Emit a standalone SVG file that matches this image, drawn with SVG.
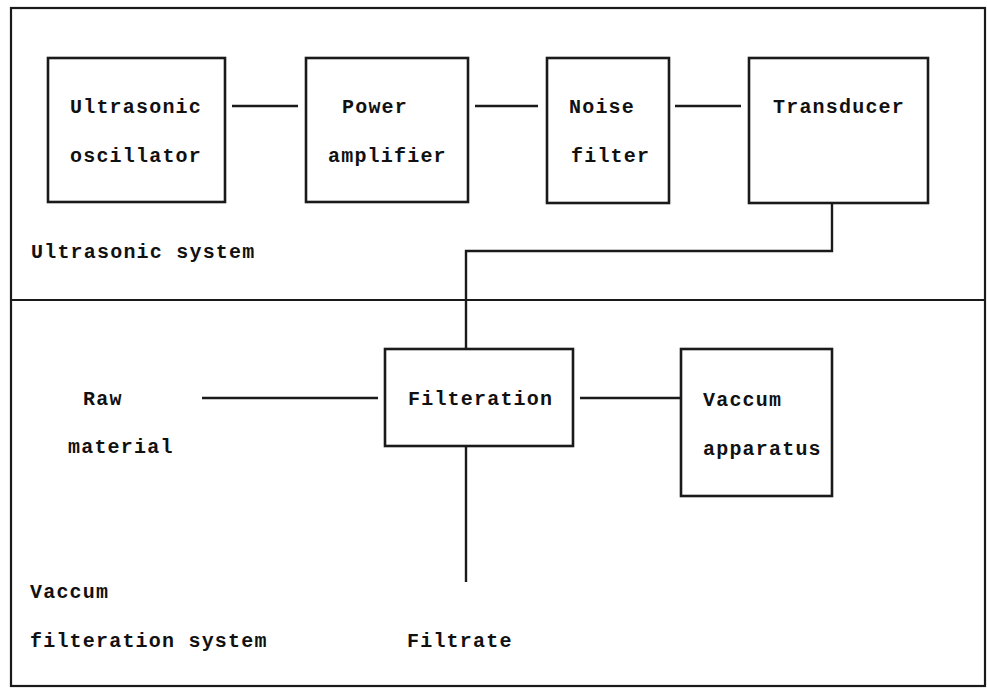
<svg xmlns="http://www.w3.org/2000/svg" width="987" height="690" viewBox="0 0 987 690">
<style>
.frame{fill:none;stroke:#1a1a1a;stroke-width:2.2}
.box{fill:none;stroke:#1a1a1a;stroke-width:2.6}
.wire{fill:none;stroke:#1a1a1a;stroke-width:2.4}
text{font-family:"Liberation Mono","DejaVu Sans Mono",monospace;font-weight:bold;font-size:20px;letter-spacing:1.2px;fill:#111}
</style>
<rect width="987" height="690" fill="#ffffff"/>
<g id="frame">
<rect class="frame" x="11" y="8" width="974" height="678"/>
<line class="frame" x1="11" y1="300" x2="985" y2="300"/>
</g>
<g id="label-ultrasonic-system"><text x="31" y="258">Ultrasonic system</text></g>
<g id="label-vaccum-filteration-system"><text x="30" y="598">Vaccum</text><text x="30" y="647">filteration system</text></g>
<g id="node-oscillator"><rect class="box" x="48" y="58" width="177" height="144"/><text x="70" y="113">Ultrasonic</text><text x="70" y="162">oscillator</text></g>
<g id="node-amplifier"><rect class="box" x="306" y="58" width="162" height="144"/><text x="342" y="113">Power</text><text x="328" y="162">amplifier</text></g>
<g id="node-noise-filter"><rect class="box" x="547" y="58" width="122" height="145"/><text x="569" y="113">Noise</text><text x="571" y="162">filter</text></g>
<g id="node-transducer"><rect class="box" x="749" y="58" width="179" height="145"/><text x="773" y="113">Transducer</text></g>
<g id="node-raw-material"><text x="83" y="405">Raw</text><text x="68" y="453">material</text></g>
<g id="node-filteration"><rect class="box" x="385" y="349" width="188" height="97"/><text x="408" y="405">Filteration</text></g>
<g id="node-vaccum-apparatus"><rect class="box" x="681" y="349" width="151" height="147"/><text x="703" y="406">Vaccum</text><text x="703" y="455">apparatus</text></g>
<g id="node-filtrate"><text x="407" y="647">Filtrate</text></g>
<g id="connectors">
<line class="wire" x1="232" y1="106" x2="298" y2="106"/>
<line class="wire" x1="475" y1="106" x2="538" y2="106"/>
<line class="wire" x1="675" y1="106" x2="741" y2="106"/>
<polyline class="wire" points="832,203 832,251 466,251 466,349"/>
<line class="wire" x1="202" y1="398" x2="378" y2="398"/>
<line class="wire" x1="580" y1="398" x2="681" y2="398"/>
<line class="wire" x1="466" y1="446" x2="466" y2="582"/>
</g>
</svg>
